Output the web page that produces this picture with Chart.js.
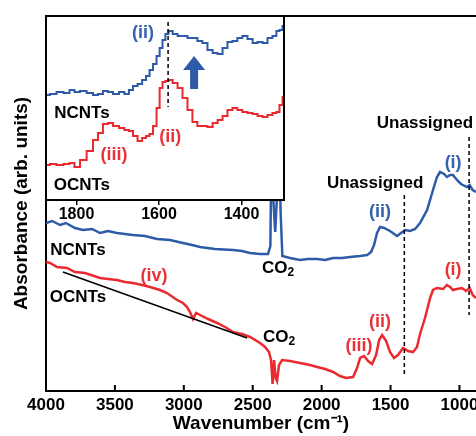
<!DOCTYPE html>
<html>
<head>
<meta charset="utf-8">
<script src="https://cdn.jsdelivr.net/npm/chart.js@4.4.1/dist/chart.umd.min.js"></script>
<style>
  html, body { margin: 0; padding: 0; background: #fff; }
  #wrap { position: relative; width: 476px; height: 436px; overflow: hidden; }
  #main, #inset { position: absolute; left: 0; top: 0; }
</style>
</head>
<body>
<div id="wrap">
  <canvas id="main" width="476" height="436"></canvas>
  <canvas id="inset" width="290" height="225"></canvas>
</div>
<script>
// Tick labels
const mainTicks = [4000, 3500, 3000, 2500, 2000, 1500, 1000];
const insetTicks = [1800, 1600, 1400];

// Main spectrum, NCNTs (wavenumber, absorbance in arb. units)
const ncntWn = [4000, 3956, 3898, 3855, 3790, 3731, 3666, 3608, 3550, 3485, 3427, 3369, 3282, 3194, 3100, 3006,
  2940, 2882, 2774, 2643, 2578, 2520, 2447, 2389, 2372, 2362, 2350, 2337, 2322, 2310, 2298, 2285,
  2229, 2157, 2099, 2033, 1975, 1917, 1852, 1794, 1721, 1670, 1641, 1620, 1598, 1576, 1547, 1504,
  1453, 1424, 1395, 1358, 1322, 1286, 1235, 1192, 1163, 1141, 1112, 1091, 1068, 1047, 1018, 989,
  945, 926, 904, 880];
const ncntAbs = [1.68, 1.70, 1.66, 1.68, 1.63, 1.61, 1.62, 1.58, 1.60, 1.58, 1.57, 1.56, 1.55, 1.52, 1.51, 1.48,
  1.46, 1.44, 1.42, 1.41, 1.40, 1.38, 1.37, 1.37, 1.45, 2.70, 1.90, 1.59, 2.00, 2.70, 1.80, 1.35,
  1.33, 1.31, 1.32, 1.32, 1.31, 1.33, 1.33, 1.34, 1.35, 1.36, 1.39, 1.46, 1.58, 1.64, 1.63, 1.60,
  1.55, 1.58, 1.61, 1.60, 1.62, 1.68, 1.81, 2.01, 2.14, 2.19, 2.17, 2.14, 2.16, 2.16, 2.11, 2.07,
  2.04, 2.06, 2.01, 1.99];

// Main spectrum, OCNTs
const ocntWn = [4000, 3971, 3920, 3848, 3790, 3717, 3608, 3550, 3485, 3427, 3369, 3303, 3245, 3173, 3122, 3049,
  3006, 2977, 2955, 2933, 2911, 2882, 2824, 2759, 2701, 2643, 2578, 2520, 2447, 2411, 2382, 2367,
  2356, 2345, 2334, 2324, 2309, 2287, 2229, 2157, 2084, 2033, 1975, 1917, 1867, 1823, 1772, 1743,
  1721, 1692, 1663, 1634, 1605, 1583, 1561, 1532, 1504, 1475, 1446, 1409, 1373, 1337, 1308, 1286,
  1250, 1213, 1192, 1163, 1119, 1091, 1068, 1047, 1018, 982, 953, 926, 904, 880];
const ocntAbs = [1.29, 1.28, 1.24, 1.23, 1.19, 1.18, 1.13, 1.12, 1.11, 1.09, 1.08, 1.06, 1.04, 1.01, 0.98, 0.91,
  0.88, 0.84, 0.79, 0.72, 0.78, 0.76, 0.72, 0.68, 0.64, 0.59, 0.57, 0.54, 0.48, 0.44, 0.39, 0.31,
  0.07, 0.31, 0.13, 0.10, 0.26, 0.31, 0.30, 0.28, 0.26, 0.24, 0.22, 0.19, 0.15, 0.13, 0.14, 0.23,
  0.33, 0.35, 0.30, 0.27, 0.36, 0.51, 0.56, 0.50, 0.39, 0.33, 0.36, 0.43, 0.40, 0.39, 0.44, 0.57,
  0.73, 0.93, 1.01, 1.03, 1.02, 1.06, 1.04, 1.01, 1.02, 1.03, 1.00, 1.03, 0.96, 0.93];

// Straight baseline under band (iv)
const baseWn = [3877, 2541];
const baseAbs = [1.19, 0.53];

// Dashed marker lines (main)
const dashWn = [1400, 930];
const dashTop = [1.96, 2.54];
const dashBottom = [0.17, 0.76];

// Inset (zoom 1874-1297 cm-1)
const insetWn = [1872, 1857, 1840, 1823, 1811, 1799, 1784, 1767, 1753, 1743, 1729, 1719, 1704, 1690, 1678, 1668,
  1658, 1646, 1636, 1627, 1619, 1610, 1602, 1595, 1588, 1581, 1573, 1561, 1549, 1537, 1525, 1513,
  1501, 1489, 1476, 1464, 1452, 1440, 1428, 1416, 1404, 1392, 1379, 1367, 1355, 1343, 1331, 1319,
  1312, 1304, 1297];
const insetNcnt = [1.05, 1.06, 1.08, 1.07, 1.10, 1.08, 1.09, 1.07, 1.05, 1.06, 1.09, 1.08, 1.06, 1.08, 1.06, 1.10,
  1.14, 1.16, 1.20, 1.24, 1.30, 1.36, 1.44, 1.52, 1.60, 1.66, 1.69, 1.66, 1.64, 1.64, 1.62, 1.62,
  1.59, 1.57, 1.50, 1.47, 1.46, 1.52, 1.58, 1.59, 1.62, 1.64, 1.61, 1.57, 1.58, 1.57, 1.62, 1.64,
  1.69, 1.70, 1.74];
const insetOcnt = [0.35, 0.36, 0.35, 0.36, 0.37, 0.33, 0.40, 0.49, 0.60, 0.67, 0.76, 0.77, 0.74, 0.72, 0.70, 0.69,
  0.64, 0.59, 0.62, 0.64, 0.66, 0.74, 0.92, 1.12, 1.18, 1.19, 1.20, 1.17, 1.12, 1.02, 0.90, 0.78,
  0.74, 0.74, 0.73, 0.77, 0.80, 0.84, 0.90, 0.92, 0.90, 0.88, 0.87, 0.86, 0.84, 0.83, 0.85, 0.87,
  0.88, 0.95, 1.03];
const insetDashWn = 1578;
const insetDashRange = [1.78, 0.93];

const BLUE = '#2d5ba8', RED = '#ea2a2f';
const BLUE_TXT = '#3462ae', RED_TXT = '#e8333a';
const FONT = "'Liberation Sans', Arial, sans-serif";

Chart.defaults.font.family = FONT;

const pts = (xs, ys) => xs.map((x, i) => ({ x: x, y: ys[i] }));

// annotation texts, placed in data units
const mainLabels = [
  { t: 'Unassigned', x: 1612, y: 2.08, c: '#000', s: 17 },
  { t: 'Unassigned', x: 1250, y: 2.68, c: '#000', s: 17 },
  { t: '(i)', x: 1046, y: 2.28, c: BLUE_TXT, s: 18 },
  { t: '(ii)', x: 1576, y: 1.79, c: BLUE_TXT, s: 18 },
  { t: '(i)', x: 1046, y: 1.21, c: RED_TXT, s: 18 },
  { t: '(ii)', x: 1576, y: 0.69, c: RED_TXT, s: 18 },
  { t: '(iii)', x: 1729, y: 0.45, c: RED_TXT, s: 18 },
  { t: '(iv)', x: 3216, y: 1.15, c: RED_TXT, s: 18 },
  { t: 'NCNTs', x: 3768, y: 1.41, c: '#000', s: 17 },
  { t: 'OCNTs', x: 3768, y: 0.94, c: '#000', s: 17 },
  { t: 'CO2', x: 2316, y: 1.23, c: '#000', s: 17 },
  { t: 'CO2', x: 2309, y: 0.54, c: '#000', s: 17 }
];
const insetLabels = [
  { t: '(ii)', x: 1639, y: 1.67, c: BLUE_TXT, s: 18 },
  { t: 'NCNTs', x: 1787, y: 0.87, c: '#000', s: 17 },
  { t: '(ii)', x: 1573, y: 0.63, c: RED_TXT, s: 18 },
  { t: '(iii)', x: 1709, y: 0.45, c: RED_TXT, s: 18 },
  { t: 'OCNTs', x: 1787, y: 0.15, c: '#000', s: 17 }
];

function drawLabels(chart, list) {
  const ctx = chart.ctx, xs = chart.scales.x, ys = chart.scales.y;
  ctx.save();
  ctx.textBaseline = 'middle';
  list.forEach(l => {
    const px = xs.getPixelForValue(l.x), py = ys.getPixelForValue(l.y);
    ctx.fillStyle = l.c;
    if (l.t === 'CO2') {
      // CO with subscript 2
      ctx.font = 'bold ' + l.s + 'px ' + FONT;
      const w1 = ctx.measureText('CO').width;
      ctx.font = 'bold 12px ' + FONT;
      const w2 = ctx.measureText('2').width;
      const x0 = px - (w1 + w2) / 2;
      ctx.textAlign = 'left';
      ctx.font = 'bold ' + l.s + 'px ' + FONT;
      ctx.fillText('CO', x0, py);
      ctx.font = 'bold 12px ' + FONT;
      ctx.fillText('2', x0 + w1, py + 5);
    } else {
      ctx.textAlign = 'center';
      ctx.font = 'bold ' + l.s + 'px ' + FONT;
      ctx.fillText(l.t, px, py);
    }
  });
  ctx.restore();
}

const dashSet = (i) => ({
  data: [{ x: dashWn[i], y: dashTop[i] }, { x: dashWn[i], y: dashBottom[i] }],
  borderColor: '#000', borderWidth: 1.5, borderDash: [4, 3]
});

// Main chart
new Chart(document.getElementById('main'), {
  type: 'line',
  data: {
    datasets: [
      { data: pts(baseWn, baseAbs), borderColor: '#000', borderWidth: 1.5 },
      dashSet(0),
      dashSet(1),
      { data: pts(ncntWn, ncntAbs), borderColor: BLUE, borderWidth: 2.5 },
      { data: pts(ocntWn, ocntAbs), borderColor: RED, borderWidth: 2.5 }
    ]
  },
  options: {
    responsive: false,
    animation: false,
    devicePixelRatio: 1,
    layout: { padding: { top: 16, right: 0, left: 0, bottom: 0 } },
    plugins: { legend: { display: false }, tooltip: { enabled: false } },
    elements: { point: { radius: 0 }, line: { tension: 0 } },
    scales: {
      x: {
        type: 'linear', reverse: true, min: 880, max: 4000,
        afterBuildTicks: s => { s.ticks = mainTicks.map(v => ({ value: v })); },
        afterFit: s => { s.height = 45; s.paddingLeft = 0; s.paddingRight = 0; },
        grid: { display: false, drawTicks: false },
        border: { display: true, color: '#000', width: 2 },
        ticks: { color: '#000', font: { size: 17, weight: 'bold' }, padding: 4, maxRotation: 0, autoSkip: false,
          callback: v => String(v) },
        title: { display: true, text: 'Wavenumber (cm⁻¹)', color: '#000',
          font: { size: 19, weight: 'bold' }, padding: { top: 0, bottom: 1 } }
      },
      y: {
        min: 0, max: 3.75,
        afterFit: s => { s.width = 46; },
        grid: { display: false, drawTicks: false },
        border: { display: true, color: '#000', width: 2 },
        ticks: { display: false },
        title: { display: true, text: 'Absorbance (arb. units)', color: '#000',
          font: { size: 19, weight: 'bold' }, padding: { top: 10, bottom: 0 } }
      }
    }
  },
  plugins: [{
    id: 'frame',
    afterDraw(chart) {
      const { ctx, chartArea: a } = chart;
      ctx.save();
      ctx.strokeStyle = '#000';
      ctx.lineWidth = 2;
      ctx.beginPath();
      ctx.moveTo(a.left - 1, a.top);
      ctx.lineTo(a.right, a.top);
      // inward tick marks
      mainTicks.forEach(v => {
        const px = chart.scales.x.getPixelForValue(v);
        ctx.moveTo(px, a.bottom);
        ctx.lineTo(px, a.bottom - 6);
      });
      ctx.stroke();
      ctx.restore();
      drawLabels(chart, mainLabels);
    }
  }]
});

// Inset chart
new Chart(document.getElementById('inset'), {
  type: 'line',
  data: {
    datasets: [
      { data: [{ x: insetDashWn, y: insetDashRange[0] }, { x: insetDashWn, y: insetDashRange[1] }],
        borderColor: '#000', borderWidth: 1.5, borderDash: [4, 3] },
      { data: pts(insetWn, insetNcnt), borderColor: BLUE, borderWidth: 2, stepped: 'middle' },
      { data: pts(insetWn, insetOcnt), borderColor: RED, borderWidth: 2, stepped: 'middle' }
    ]
  },
  options: {
    responsive: false,
    animation: false,
    devicePixelRatio: 1,
    layout: { padding: { top: 16, right: 6, left: 46, bottom: 0 } },
    plugins: { legend: { display: false }, tooltip: { enabled: false } },
    elements: { point: { radius: 0 }, line: { tension: 0 } },
    scales: {
      x: {
        type: 'linear', reverse: true, min: 1297, max: 1874,
        afterBuildTicks: s => { s.ticks = insetTicks.map(v => ({ value: v })); },
        afterFit: s => { s.height = 25; s.paddingLeft = 0; s.paddingRight = 0; },
        grid: { display: true, drawOnChartArea: false, drawTicks: true, tickLength: 5, color: '#000', lineWidth: 1.5 },
        border: { display: true, color: '#000', width: 2 },
        ticks: { color: '#000', font: { size: 16, weight: 'bold' }, padding: 0, maxRotation: 0, autoSkip: false,
          callback: v => String(v) }
      },
      y: { display: false, min: 0, max: 1.84 }
    }
  },
  plugins: [{
    id: 'insetBox',
    beforeDraw(chart) {
      const { ctx, chartArea: a } = chart;
      ctx.save();
      ctx.fillStyle = '#fff';
      ctx.fillRect(a.left, a.top, a.right - a.left, a.bottom - a.top);
      ctx.restore();
    },
    afterDraw(chart) {
      const { ctx, chartArea: a } = chart;
      ctx.save();
      ctx.strokeStyle = '#000';
      ctx.lineWidth = 2;
      ctx.strokeRect(a.left, a.top, a.right - a.left, a.bottom - a.top);
      // up arrow
      const ax = chart.scales.x.getPixelForValue(1515);
      const yTop = chart.scales.y.getPixelForValue(1.44);
      const yBot = chart.scales.y.getPixelForValue(1.11);
      ctx.fillStyle = BLUE;
      ctx.beginPath();
      ctx.moveTo(ax, yTop);
      ctx.lineTo(ax + 11, yTop + 14);
      ctx.lineTo(ax + 4, yTop + 14);
      ctx.lineTo(ax + 4, yBot);
      ctx.lineTo(ax - 4, yBot);
      ctx.lineTo(ax - 4, yTop + 14);
      ctx.lineTo(ax - 11, yTop + 14);
      ctx.closePath();
      ctx.fill();
      ctx.restore();
      drawLabels(chart, insetLabels);
    }
  }]
});
</script>
</body>
</html>
